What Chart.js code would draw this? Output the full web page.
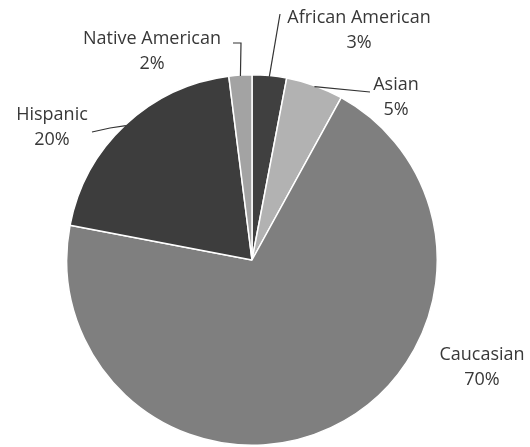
<!DOCTYPE html>
<html>
<head>
<meta charset="utf-8">
<script src="https://cdn.jsdelivr.net/npm/chart.js@4.4.1/dist/chart.umd.min.js"></script>
<style>
    html, body { margin: 0; padding: 0; background: #fff; }
    #wrap { width: 530px; height: 447px; }
</style>
</head>
<body>
<div id="wrap"><canvas id="pieChart"></canvas></div>
<script>
// Chart data (clockwise from 12 o'clock)

const groups = ['African American', 'Asian', 'Caucasian', 'Hispanic', 'Native American'];
const shares = [3, 5, 70, 20, 2];
const sliceColors = ['#404040', '#b2b2b2', '#7f7f7f', '#3d3d3d', '#a3a3a3'];

// label placement, offsets from pie centre (px)
const labelOffsets = [
    { dx: 107, dy: -242 },
    { dx: 144, dy: -175 },
    { dx: 230, dy: 95 },
    { dx: -200, dy: -145 },
    { dx: -100, dy: -221 },
];

// leader line: points relative to centre, last point goes to slice edge
const leaders = [
    [{ dx: 28, dy: -246 }],
    [{ dx: 118, dy: -168 }],
    null,
    [{ dx: -160, dy: -128 }, { dx: -142, dy: -132 }],
    [{ dx: -19, dy: -217 }, { dx: -11, dy: -217 }],
];

const pieLabels = {
    id: 'pieLabels',
    afterDatasetsDraw(chart) {
        const ctx = chart.ctx;
        const arcs = chart.getDatasetMeta(0).data;
        ctx.save();
        ctx.font = '18px "Open Sans"';
        ctx.fillStyle = '#383838';
        ctx.strokeStyle = '#333';
        ctx.lineWidth = 1.2;
        ctx.textAlign = 'center';
        ctx.textBaseline = 'middle';

        arcs.forEach((arc, i) => {
            const cx = arc.x, cy = arc.y;
            const mid = (arc.startAngle + arc.endAngle) / 2;
            const r = arc.outerRadius;

            const pts = leaders[i];
            if (pts) {
                ctx.beginPath();
                ctx.moveTo(cx + pts[0].dx, cy + pts[0].dy);
                for (let k = 1; k < pts.length; k++) {
                    ctx.lineTo(cx + pts[k].dx, cy + pts[k].dy);
                }
                ctx.lineTo(cx + Math.cos(mid) * (r - 1), cy + Math.sin(mid) * (r - 1));
                ctx.stroke();
            }

            const off = labelOffsets[i];
            ctx.fillText(groups[i], cx + off.dx, cy + off.dy);
            ctx.fillText(shares[i] + '%', cx + off.dx, cy + off.dy + 25);
        });
        ctx.restore();
    }
};

const pieChart = document.getElementById('pieChart');

const pie = new Chart(pieChart, {
    type: 'pie',
    data: {
        labels: groups,
        datasets: [{
            data: shares,
            backgroundColor: sliceColors,
            borderColor: '#ffffff',
            borderWidth: 1.5,
        }],
    },
    options: {
        responsive: true,
        maintainAspectRatio: false,
        animation: false,
        layout: {
            padding: { top: 74, bottom: 1, left: 66, right: 92 },
        },
        plugins: {
            legend: { display: false },
            tooltip: { enabled: false },
        },
    },
    plugins: [pieLabels],
})
</script>
</body>
</html>
